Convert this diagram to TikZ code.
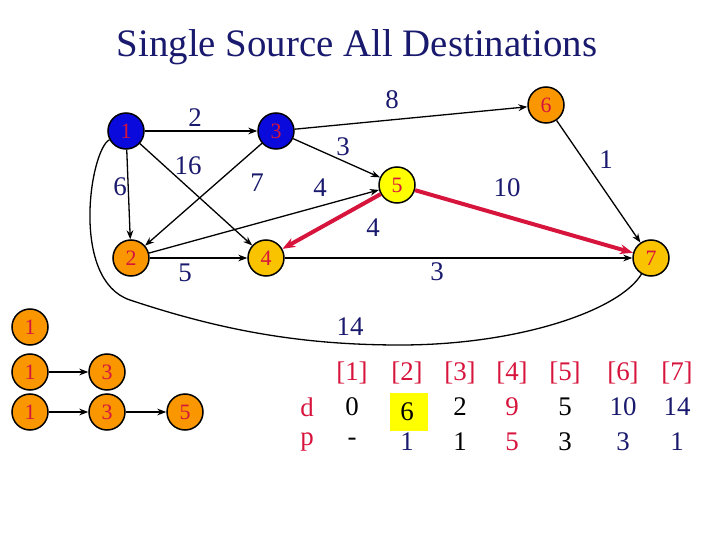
\documentclass[tikz,border=0pt]{standalone}
\usepackage{fontspec}
\setmainfont{Liberation Serif}
\usetikzlibrary{arrows.meta}
\definecolor{navy}{RGB}{25,25,110}
\definecolor{crim}{RGB}{215,20,60}
\definecolor{orng}{RGB}{250,150,0}
\definecolor{gold}{RGB}{250,195,0}
\definecolor{yel}{RGB}{255,255,0}
\definecolor{blu}{RGB}{10,10,220}
\begin{document}
\begin{tikzpicture}[x=1bp,y=-1bp]
  \tikzstyle{vertex}=[circle,line width=1.5bp,draw=black,minimum size=36bp,inner sep=0pt,font=\fontsize{22}{22}\selectfont,text=crim]
  \tikzstyle{edge}=[draw, line width=1.3bp, -{Stealth[length=9bp]}]
  \tikzstyle{hot}=[draw=crim, line width=4bp, -{Stealth[length=13bp]}]
  \tikzstyle{wt}=[font=\fontsize{27}{27}\selectfont,text=navy]
  \tikzstyle{cell}=[font=\fontsize{27}{27}\selectfont]
  \useasboundingbox (0,0) rectangle (720,540);
  \node[font=\fontsize{39}{39}\selectfont,text=navy] (title) at (357,47) {Single Source All Destinations};
  \begin{scope}
    \node [vertex,fill=blu] (v1) at (126,131) {1};
    \node [vertex,fill=blu] (v3) at (276,131) {3};
    \node [vertex,fill=orng] (v6) at (546,105) {6};
    \node [vertex,fill=yel] (v5) at (397,185) {5};
    \node [vertex,fill=orng] (v2) at (131,258) {2};
    \node [vertex,fill=gold] (v4) at (266,258) {4};
    \node [vertex,fill=gold] (v7) at (651,258) {7};
    \path[edge] (v1) -- (v3);
    \path[edge] (v1) -- (v2);
    \path[edge] (v1) -- (v4);
    \path[edge] (v3) -- (v2);
    \path[edge] (v3) -- (v5);
    \path[edge] (v3) -- (v6);
    \path[edge] (v2) -- (v5);
    \path[edge] (v2) -- (v4);
    \path[edge] (v4) -- (v7);
    \path[edge] (v6) -- (v7);
    \path[hot] (v5) -- (v4);
    \path[hot] (v5) -- (v7);
    \draw[line width=1.3bp] (v1) .. controls (90,150) and (70,280) .. (130,300)
      .. controls (220,330) and (300,345) .. (400,345)
      .. controls (520,345) and (620,310) .. (v7);
    \node[wt] (w13) at (195,118) {2};
    \node[wt] (w12) at (120,187) {6};
    \node[wt] (w14) at (188,166) {16};
    \node[wt] (w32) at (257,183) {7};
    \node[wt] (w35) at (343,147) {3};
    \node[wt] (w36) at (392,100) {8};
    \node[wt] (w25) at (320,188) {4};
    \node[wt] (w54) at (373,228) {4};
    \node[wt] (w24) at (185,273) {5};
    \node[wt] (w47) at (437,272) {3};
    \node[wt] (w57) at (507,188) {10};
    \node[wt] (w67) at (606,160) {1};
    \node[wt] (w17) at (350,327) {14};
  \end{scope}
  \begin{scope}
    \node [vertex,fill=orng] (a1) at (30,327) {1};
    \node [vertex,fill=orng] (b1) at (30,372) {1};
    \node [vertex,fill=orng] (b3) at (107,372) {3};
    \node [vertex,fill=orng] (c1) at (30,412) {1};
    \node [vertex,fill=orng] (c3) at (107,412) {3};
    \node [vertex,fill=orng] (c5) at (185,412) {5};
    \path[edge] (b1) -- (b3);
    \path[edge] (c1) -- (c3);
    \path[edge] (c3) -- (c5);
  \end{scope}
  \begin{scope}
    \fill[yel] (390,393) rectangle (428,431);
    \node[cell,text=crim] (dl) at (307,407) {d};
    \node[cell,text=crim] (pl) at (307,442) {p};
    \foreach \x/\i in {352/1,407/2,460/3,512/4,565/5,623/6,677/7}
      \node[cell,text=crim] (h\i) at (\x,373) {[\i]};
    \node[cell] (d1) at (352,407) {0};
    \node[cell] (d2) at (407,412) {6};
    \node[cell] (d3) at (460,407) {2};
    \node[cell,text=crim] (d4) at (512,407) {9};
    \node[cell] (d5) at (565,407) {5};
    \node[cell,text=navy] (d6) at (623,407) {10};
    \node[cell,text=navy] (d7) at (677,407) {14};
    \node[cell] (p1) at (352,442) {-};
    \node[cell,text=navy] (p2) at (407,442) {1};
    \node[cell] (p3) at (460,442) {1};
    \node[cell,text=crim] (p4) at (512,442) {5};
    \node[cell] (p5) at (565,442) {3};
    \node[cell,text=navy] (p6) at (623,442) {3};
    \node[cell,text=navy] (p7) at (677,442) {1};
  \end{scope}
\end{tikzpicture}
\end{document}
